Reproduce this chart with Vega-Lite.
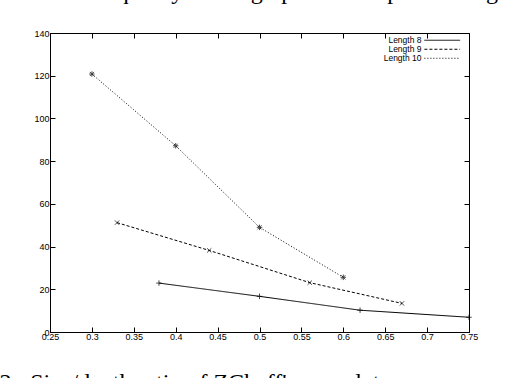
{
  "$schema": "https://vega.github.io/schema/vega-lite/v6.json",
  "width": 419,
  "height": 299,
  "autosize": {"type": "none"},
  "padding": {"left": 50, "top": 33, "right": 41, "bottom": 46},
  "background": "white",
  "title": {
    "text": "to show the quality of the graph and the plot of length",
    "anchor": "start",
    "frame": "group",
    "font": "Liberation Serif",
    "fontSize": 24,
    "fontWeight": "normal",
    "color": "black",
    "dx": -50,
    "dy": -6,
    "offset": 0,
    "baseline": "alphabetic"
  },
  "config": {
    "view": {"stroke": "black", "strokeWidth": 1},
    "font": "Liberation Sans",
    "axis": {
      "grid": false,
      "domainColor": "black",
      "domainWidth": 1,
      "tickColor": "black",
      "tickSize": -5,
      "labelColor": "black",
      "labelFont": "Liberation Sans",
      "labelFontSize": 9,
      "labelFlush": false,
      "labelOverlap": false
    }
  },
  "data": {
    "values": [
      {"series": "Length 8", "x": 0.38, "y": 22.9},
      {"series": "Length 8", "x": 0.5, "y": 16.7},
      {"series": "Length 8", "x": 0.62, "y": 10.2},
      {"series": "Length 8", "x": 0.75, "y": 6.9},
      {"series": "Length 9", "x": 0.33, "y": 51.2},
      {"series": "Length 9", "x": 0.44, "y": 38.2},
      {"series": "Length 9", "x": 0.56, "y": 23.1},
      {"series": "Length 9", "x": 0.67, "y": 13.4},
      {"series": "Length 10", "x": 0.3, "y": 120.8},
      {"series": "Length 10", "x": 0.4, "y": 87.2},
      {"series": "Length 10", "x": 0.5, "y": 49.0},
      {"series": "Length 10", "x": 0.6, "y": 25.6}
    ]
  },
  "resolve": {"axis": {"x": "independent", "y": "independent"}},
  "layer": [
    {
      "mark": {"type": "line", "color": "black", "strokeWidth": 1, "clip": false},
      "encoding": {
        "x": {
          "field": "x", "type": "quantitative",
          "scale": {"domain": [0.25, 0.75], "nice": false, "zero": false},
          "axis": {
            "orient": "bottom",
            "values": [0.25, 0.3, 0.35, 0.4, 0.45, 0.5, 0.55, 0.6, 0.65, 0.7, 0.75],
            "format": "~g",
            "labelPadding": 5,
            "title": "2:\u2002Size/depth ratio of ZChaff's complete",
            "titleFont": "Liberation Serif",
            "titleFontSize": 24,
            "titleFontWeight": "normal",
            "titleColor": "black",
            "titleAnchor": "start",
            "titleAlign": "left",
            "titleBaseline": "alphabetic",
            "titleX": -51,
            "titleY": 57
          }
        },
        "y": {
          "field": "y", "type": "quantitative",
          "scale": {"domain": [0, 140], "nice": false},
          "axis": {
            "orient": "left",
            "values": [0, 20, 40, 60, 80, 100, 120, 140],
            "labelPadding": 6,
            "title": null
          }
        },
        "strokeDash": {
          "field": "series", "type": "nominal",
          "scale": {"domain": ["Length 8", "Length 9", "Length 10"], "range": [[1, 0], [3, 2], [1, 2]]},
          "legend": {
            "title": null,
            "orient": "none",
            "legendX": 388,
            "legendY": 3,
            "symbolType": "M-5.1,0L5.1,0",
            "symbolSize": 49,
            "symbolStrokeColor": "black",
            "symbolStrokeWidth": 1,
            "labelFont": "Liberation Sans",
            "labelFontSize": 8.5,
            "labelColor": "black",
            "rowPadding": -2,
            "labelAlign": "right",
            "labelOffset": -25,
            "padding": 0
          }
        }
      }
    },
    {
      "transform": [{"filter": "datum.series === 'Length 8'"}],
      "mark": {"type": "point", "shape": "M-1,0L1,0M0,-1L0,1", "color": "black", "filled": false, "strokeWidth": 1, "size": 30, "clip": false},
      "encoding": {
        "x": {"field": "x", "type": "quantitative", "axis": null},
        "y": {"field": "y", "type": "quantitative", "axis": null}
      }
    },
    {
      "transform": [{"filter": "datum.series === 'Length 9'"}],
      "mark": {"type": "point", "shape": "M-0.8,-0.8L0.8,0.8M-0.8,0.8L0.8,-0.8", "color": "black", "filled": false, "strokeWidth": 1, "size": 30, "clip": false},
      "encoding": {
        "x": {"field": "x", "type": "quantitative", "axis": null},
        "y": {"field": "y", "type": "quantitative", "axis": null}
      }
    },
    {
      "transform": [{"filter": "datum.series === 'Length 10'"}],
      "mark": {"type": "point", "shape": "M-1,0L1,0M0,-1L0,1M-0.75,-0.75L0.75,0.75M-0.75,0.75L0.75,-0.75", "color": "black", "filled": false, "strokeWidth": 1, "size": 30, "clip": false},
      "encoding": {
        "x": {"field": "x", "type": "quantitative", "axis": null},
        "y": {"field": "y", "type": "quantitative", "axis": null}
      }
    },
    {
      "mark": {"type": "point", "opacity": 0},
      "encoding": {
        "x": {
          "field": "x", "type": "quantitative",
          "axis": {"orient": "top", "values": [0.3, 0.35, 0.4, 0.45, 0.5, 0.55, 0.6, 0.65, 0.7], "labels": false, "title": null}
        },
        "y": {
          "field": "y", "type": "quantitative",
          "axis": {"orient": "right", "values": [20, 40, 60, 80, 100, 120], "labels": false, "title": null}
        }
      }
    }
  ]
}
